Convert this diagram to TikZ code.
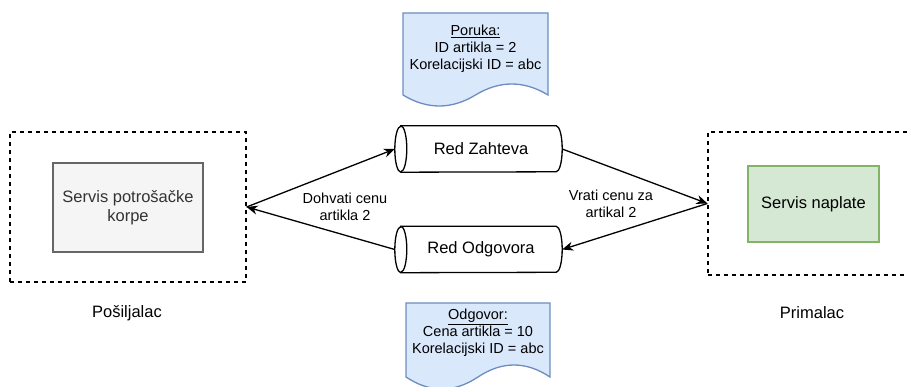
\documentclass[tikz,border=0pt]{standalone}
\usepackage{fontspec}
\setmainfont{Liberation Sans}
\usetikzlibrary{arrows.meta,calc}
\definecolor{docfill}{HTML}{DAE8FC}
\definecolor{docline}{HTML}{6C8EBF}
\definecolor{grayfill}{HTML}{F5F5F5}
\definecolor{grayline}{HTML}{666666}
\definecolor{graytext}{HTML}{333333}
\definecolor{greenfill}{HTML}{D5E8D4}
\definecolor{greenline}{HTML}{82B366}
\tikzset{
  big/.style={font=\fontsize{16.5}{19}\selectfont},
  small/.style={font=\fontsize{14.5}{17}\selectfont},
  container/.style={draw=black, line width=1.2pt, dash pattern=on 4pt off 4pt, inner sep=0pt},
  graybox/.style={draw=grayline, fill=grayfill, line width=1.3pt, text=graytext, big, align=center, inner sep=0pt},
  greenbox/.style={draw=greenline, fill=greenfill, line width=1.3pt, text=black, big, align=center, inner sep=0pt},
  cylframe/.style={inner sep=0pt, big},
  cylline/.style={draw=black, fill=white, line width=1.3pt},
  docshape/.style={draw=docline, fill=docfill, line width=1.3pt},
  doctext/.style={small, align=center, inner sep=0pt},
  lbl/.style={small, align=center, inner sep=0pt},
  caption/.style={big, inner sep=0pt},
  arr/.style={draw=black, line width=1.3pt, -{Stealth[length=11pt, width=9pt, inset=3.5pt]}},
}
% cylinder outline around a named node (rx = 6pt)
\newcommand\cylpath[1]{%
  \path[cylline] ([xshift=6pt]#1.north west) -- ([xshift=-6pt]#1.north east)
    arc[start angle=90, end angle=-90, x radius=6pt, y radius=23pt]
    -- ([xshift=6pt]#1.south west)
    arc[start angle=270, end angle=90, x radius=6pt, y radius=23pt] -- cycle;
  \draw[line width=1.3pt] ([xshift=6pt]#1.north west)
    arc[start angle=90, end angle=-90, x radius=6pt, y radius=23pt];}
% document shape: left, top, right, side-bottom, amplitude
\newcommand\docpath[5]{%
  \pgfmathsetmacro\dw{(#3-#1)/6}%
  \pgfmathsetmacro\dm{(#1+#3)/2}%
  \pgfmathsetmacro\da{4*#5/3}%
  \path[docshape] (#1,#2) -- (#3,#2) -- (#3,#4)
    .. controls (#3-\dw,#4-\da) and (\dm+\dw,#4-\da) .. (\dm,#4)
    .. controls (\dm-\dw,#4+\da) and (#1+\dw,#4+\da) .. (#1,#4) -- cycle;}
\begin{document}
\begin{tikzpicture}[x=1pt, y=-1pt]
\useasboundingbox (0,0) rectangle (908,387);
\clip (0,0) rectangle (908,387);

% containers
\node[container, minimum width=236pt, minimum height=150pt] (sendbox) at (128,207) {};
\node[container, minimum width=208pt, minimum height=143pt] (recvbox) at (812,203.5) {};

% services
\node[graybox, minimum width=150pt, minimum height=89pt] (cart) at (128,207.5) {Servis potrošačke\\korpe};
\node[greenbox, minimum width=131pt, minimum height=76pt] (pay) at (813.5,204) {Servis naplate};

% captions
\node[caption] (sendlbl) at (127,313) {Pošiljalac};
\node[caption] (recvlbl) at (812,313) {Primalac};

% queues
\node[cylframe, minimum width=167pt, minimum height=46pt] (rz) at (478.5,149) {};
\node[cylframe, minimum width=167pt, minimum height=46pt] (ro) at (478.5,249.5) {};
\cylpath{rz}
\cylpath{ro}
\node[big] (rztext) at (481,149) {Red Zahteva};
\node[big] (rotext) at (481,249.5) {Red Odgovora};

% documents
\docpath{403}{13}{548}{95}{11}
\node[doctext] (poruka) at (475.5,49) {\underline{Poruka:}\\ID artikla = 2\\Korelacijski ID = abc};
\docpath{406}{303}{550}{377}{12}
\node[doctext] (odgovor) at (478,333) {\underline{Odgovor:}\\Cena artikla = 10\\Korelacijski ID = abc};

% connectors
\draw[arr] (sendbox.east) -- (rz.west);
\draw[arr] (ro.west) -- (sendbox.east);
\draw[arr] (rz.east) -- (recvbox.west);
\draw[arr] (recvbox.west) -- (ro.east);

% connector labels
\node[lbl] (ask) at (345,207) {Dohvati cenu\\artikla 2};
\node[lbl] (reply) at (611,204) {Vrati cenu za\\artikal 2};
\end{tikzpicture}
\end{document}
